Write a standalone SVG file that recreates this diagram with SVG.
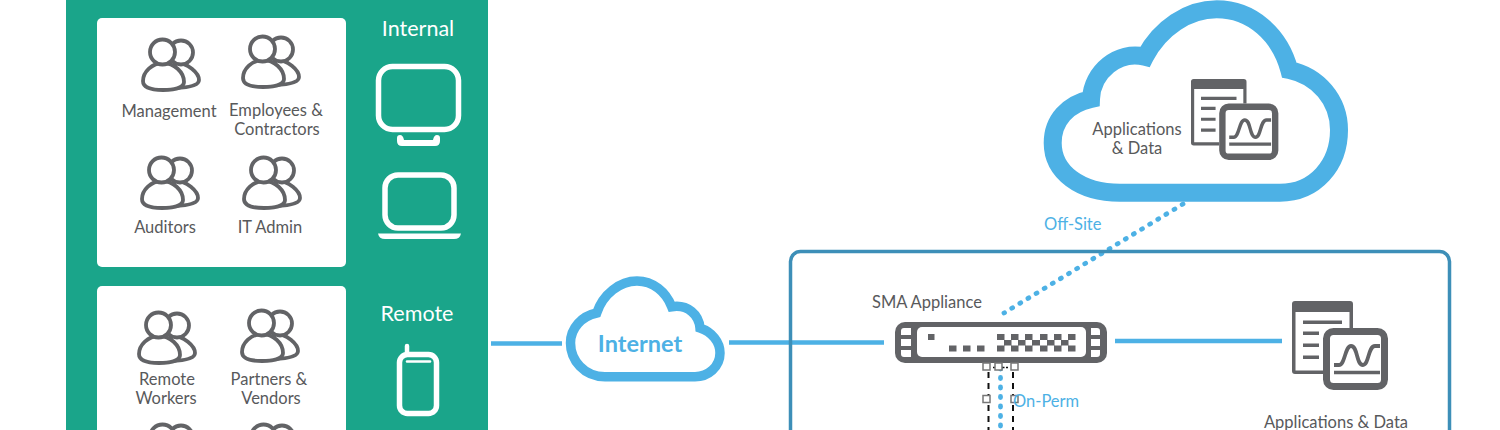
<svg xmlns="http://www.w3.org/2000/svg" width="1500" height="430" viewBox="0 0 1500 430">
<style>
text{font-family:"Lato","Noto Sans",sans-serif;font-size:16.5px;fill:#58595b;text-anchor:middle}
.w{fill:#fff;font-size:21.5px}
.b{fill:#4db1e5}
.l{text-anchor:start}
.ws{fill:none;stroke:#fff;stroke-width:5.500}
.cl{fill:#fff;stroke:#4db1e5}
.g{fill:#626366}
.pp{fill:#fff;stroke:#626366;stroke-width:3.800}
.c{fill:none;stroke:#4db1e5;stroke-width:4.500}
.d{fill:none;stroke:#4db1e5;stroke-width:4.800;stroke-linecap:round;stroke-dasharray:1 8.500}
.k{fill:none;stroke:#111;stroke-width:2;stroke-dasharray:6 5}
.h{fill:#fff;stroke:#777;stroke-width:1.500}
</style>
<defs>
<g id="people">
<path class="pp" d="M34 24C47 25 58 35 58 42C58 47 49 49.500 34 50Z"/>
<circle class="pp" cx="40" cy="14.500" r="12"/>
<path class="pp" d="M22 25C11 25 2 34 2 43C2 50 12 52 22 52C32 52 43 50 43 44C43 34 33 25 22 25Z"/>
<circle class="pp" cx="21.500" cy="14" r="12.500"/>
</g>
<g id="app">
<path class="g" d="M3 0H58A3 3 0 0 1 61 3V27H57.500V11H3.500V69.500H31V73H3A3 3 0 0 1 0 70V3A3 3 0 0 1 3 0Z"/>
<path class="g" d="M11 19.500H50V23H11ZM11 30.500H27V34H11ZM11 42.500H27V46H11ZM11 54.500H27V58H11Z"/>
<rect x="34.500" y="30.500" width="58" height="55" rx="7" fill="#fff" stroke="#626366" stroke-width="7"/>
<path d="M42 64H47C53 64 53 45 59 45C66 45 64 64 71 64C77 64 76 45 83 45H88" fill="none" stroke="#626366" stroke-width="3.800"/>
<path d="M42 71.500H88" stroke="#626366" stroke-width="3.500"/>
</g>
</defs>

<g id="connectors">
<path class="c" d="M491 343.500H562M729 342.500H884M1115 341H1282"/>
<path class="d" d="M1183 204L1004 313"/>
<path class="d" d="M1000.500 368V430"/>
<path class="k" d="M988.500 372V430M1013 372V430"/>
<path d="M993 367.500H1008" stroke="#111" stroke-width="1.500" stroke-dasharray="5 1.500"/>
</g>

<g id="panel">
<rect x="66" y="-12" width="422" height="454" rx="8" fill="#1aa58a"/>
<rect x="97" y="18" width="249" height="249" rx="5" fill="#fff"/>
<rect x="97" y="286" width="249" height="160" rx="5" fill="#fff"/>
</g>

<g id="management"><use href="#people" x="141" y="38"/><text x="169" y="117">Management</text></g>
<g id="employees"><use href="#people" x="241" y="35"/><text x="276" y="116">Employees &amp;</text><text x="277" y="135">Contractors</text></g>
<g id="auditors"><use href="#people" x="140" y="156"/><text x="165" y="233">Auditors</text></g>
<g id="it-admin"><use href="#people" x="242" y="156"/><text x="270" y="233">IT Admin</text></g>
<g id="remote-workers"><use href="#people" x="137" y="311"/><text x="167" y="385">Remote</text><text x="166" y="404">Workers</text></g>
<g id="partners"><use href="#people" x="240" y="309"/><text x="269" y="385">Partners &amp;</text><text x="271" y="404">Vendors</text></g>
<g id="people-bottom-left"><use href="#people" x="141" y="423"/></g>
<g id="people-bottom-right"><use href="#people" x="242" y="423"/></g>

<g id="internal">
<text class="w" x="418" y="36">Internal</text>
<rect class="ws" x="378.500" y="66.500" width="80" height="63" rx="14"/>
<path fill="#fff" d="M397 138Q397 135 400 135Q403 135 404 140H433Q434 135 437 135Q440 135 440 138V141Q440 146 435 146H402Q397 146 397 141Z"/>
<rect class="ws" x="385" y="175" width="69" height="53" rx="13"/>
<path fill="#fff" d="M378 233.500H461Q460 239 454 239H385Q379 239 378 233.500Z"/>
</g>

<g id="remote">
<text class="w" x="417" y="321">Remote</text>
<rect class="ws" x="399.500" y="354.500" width="37" height="59" rx="8"/>
<path d="M407 346V354" fill="none" stroke="#fff" stroke-width="4.500" stroke-linecap="round"/>
<path d="M407 361.500H430" fill="none" stroke="#fff" stroke-width="2.500" stroke-linecap="round"/>
</g>

<g id="internet">
<path class="cl" stroke-width="9.500" d="M605 376.700C584 376.700 570.500 360 570.500 343C570.500 328 582 316 596.700 313C603 294 620 281 637 281C653 281 666 292 671.700 306.700C688 304 699 315 700 328C712 332 720 342 720 353C720 367 708 376.700 695 376.700Z"/>
<text x="640" y="352" style="font-size:23.500px;font-weight:700;fill:#4db1e5">Internet</text>
</g>

<g id="site-box"><rect x="790.500" y="251.500" width="659" height="200" rx="10" fill="none" stroke="#3d8fb8" stroke-width="3.500"/></g>

<g id="cloud-apps">
<path class="cl" stroke-width="18" d="M1120 192.700C1080 192.700 1052.700 172 1052.700 143C1052.700 120 1068 104 1091 99C1092 72 1118 50 1145 56.700C1160 28 1188 9.300 1216.700 9.300C1252 9.300 1280 35 1289.300 70C1318 76 1339 100 1339 130C1339 165 1315 192.700 1280 192.700Z"/>
<use href="#app" transform="translate(1191 79) scale(.91)"/>
<text x="1137" y="135">Applications</text>
<text x="1137" y="154">&amp; Data</text>
</g>
<text class="b l" x="1044" y="230">Off-Site</text>

<g id="sma-appliance">
<text class="l" x="872" y="308">SMA Appliance</text>
<rect class="g" x="895" y="322" width="212" height="41" rx="10"/>
<rect x="917" y="327" width="169" height="30" rx="5" fill="#fff"/>
<path fill="#fff" d="M901 331Q901 328 904 328H911V335H901ZM901 339H911V346H901ZM901 350H911V357H904Q901 357 901 354ZM1091 328H1097Q1100 328 1100 331V335H1091ZM1091 339H1100V346H1091ZM1091 350H1100V354Q1100 357 1097 357H1091Z"/>
<path class="g" d="M928 334h6.500v6h-6.500ZM949 345.500h7.500v6h-7.500ZM963 345.500h7.500v6h-7.500ZM977 345.500h7.500v6h-7.500Z"/>
<path class="g" d="M997 334h7.500v6h-7.500ZM1011 334h7.500v6h-7.500ZM1025 334h7.500v6h-7.500ZM1040 334h7.500v6h-7.500ZM1054 334h7.500v6h-7.500ZM1068 334h7.500v6h-7.500ZM997 345.500h7.500v6h-7.500ZM1011 345.500h7.500v6h-7.500ZM1025 345.500h7.500v6h-7.500ZM1040 345.500h7.500v6h-7.500ZM1054 345.500h7.500v6h-7.500ZM1068 345.500h7.500v6h-7.500ZM1004 340h7.500v5.500h-7.500ZM1018 340h7.500v5.500h-7.500ZM1032 340h8v5.500h-8ZM1047 340h7.500v5.500h-7.500ZM1061 340h7.500v5.500h-7.500Z"/>
</g>

<g id="handles">
<rect class="h" x="983" y="363" width="7" height="7"/>
<rect class="h" x="995" y="363" width="7" height="7"/>
<rect class="h" x="1011" y="363" width="7" height="7"/>
<rect class="h" x="983" y="395.500" width="7" height="7"/>
<rect class="h" x="1011" y="395.500" width="7" height="7"/>
</g>
<text class="b l" x="1013" y="407">On-Perm</text>

<g id="apps-onprem">
<use href="#app" x="1292" y="301"/>
<text x="1336" y="428">Applications &amp; Data</text>
</g>
</svg>
